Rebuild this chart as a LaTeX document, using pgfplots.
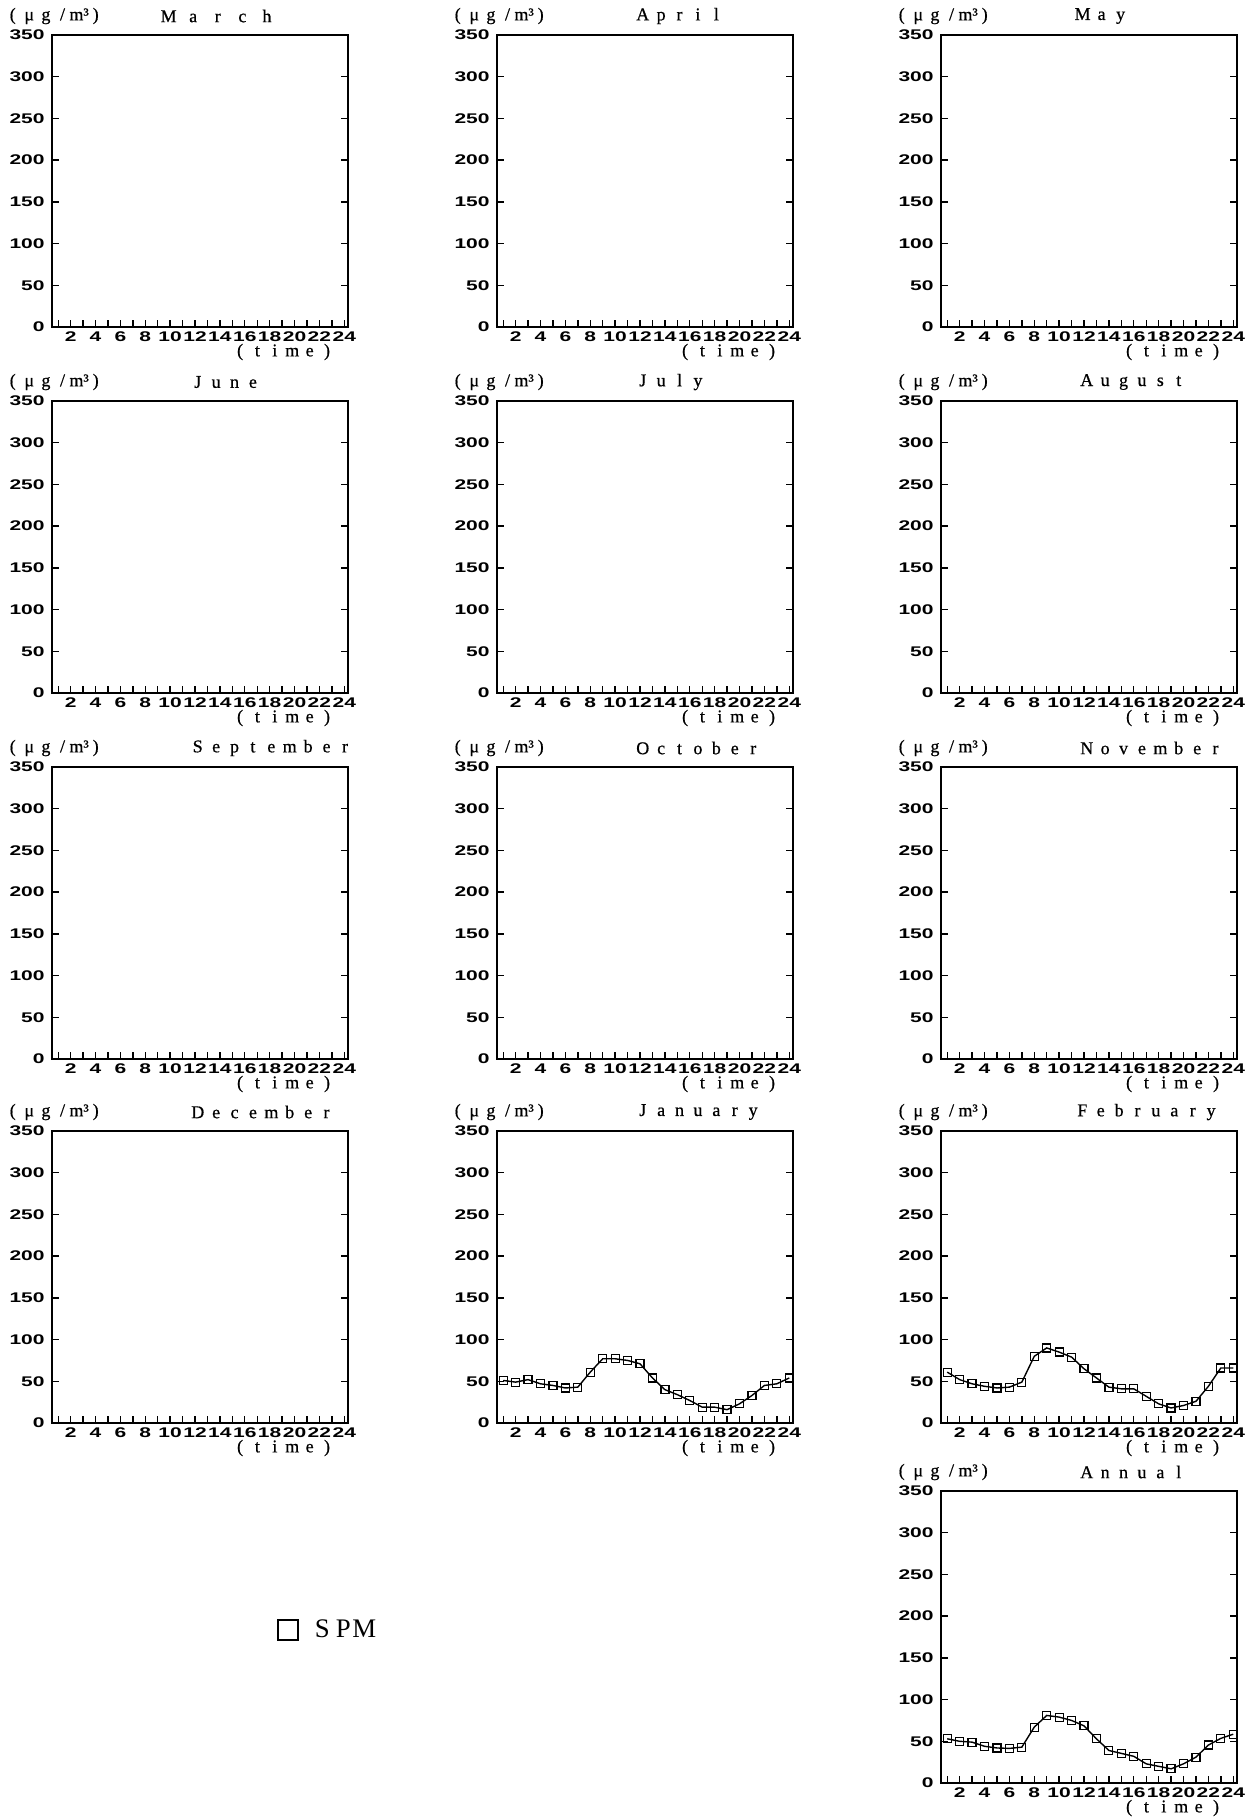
\documentclass[border=0pt]{standalone}
\usepackage{fontspec}
\setmainfont{Liberation Serif}
\newfontfamily\tickfont[FakeStretch=1.5]{Liberation Sans}
\newfontfamily\lblfont[FakeBold=0.6]{Liberation Serif}
\usepackage{pgfplots}
\pgfplotsset{compat=1.18}

\newcommand\spc[2]{\def\spcpitch{#1}\spcloop#2\relax}
\def\spcloop#1{\ifx\relax#1\else\makebox[\spcpitch][c]{#1}\expandafter\spcloop\fi}
\newcommand\tf{\tickfont\bfseries\fontsize{7}{8}\selectfont}
\newcommand\lf{\lblfont\fontsize{9}{10}\selectfont}

\pgfplotsset{
  panel/.style={
    width=148pt, height=146pt, scale only axis,
    xmin=0.5, xmax=24.3, ymin=0, ymax=350,
    xtick={2,4,...,24}, minor xtick={1,3,...,23},
    ytick={0,50,...,350},
    tick align=inside,
    xtick pos=left,
    ytick pos=both,
    yticklabel pos=left,
    major tick length=3.5pt, minor tick length=3.5pt,
    every tick/.style={line width=0.7pt, black},
    axis line style={line width=1.1pt},
    tick label style={font=\tf},
    /pgf/number format/assume math mode=true,
    yticklabel style={inner sep=0pt, xshift=-3.5pt},
    xticklabel style={inner sep=0pt, yshift=-2pt},
  },
  spm/.style={black, line width=0.7pt, mark=square, mark size=2pt, mark options={line width=0.6pt, solid}},
}

\newcommand\panel[7][]{%
\begin{axis}[panel, at={(#2pt,-#3pt)}, anchor=north west, #1,
  extra description/.code={
    \node[anchor=west,inner sep=0pt,yshift=9.5pt,font=\lf] at (axis description cs:#6,1) {\spc{#5}{#4}};
    \node[anchor=west,inner sep=0pt,yshift=9.5pt,font=\lf] at (axis description cs:-0.162,1) {\spc{8.3pt}{(μg/{m³})}};
    \node[anchor=east,inner sep=0pt,yshift=-12.5pt,font=\lf] at (axis description cs:0.96,0) {\spc{8.7pt}{(time)}};
  }]
#7
\end{axis}}

\begin{document}
\begin{tikzpicture}
\useasboundingbox (0,0) rectangle (626pt,-908.5pt);
% row 1
\panel{26}{17.5}{March}{12.3pt}{0.351}{}
\panel{248.5}{17.5}{April}{9.2pt}{0.46}{}
\panel{470.5}{17.5}{May}{9.5pt}{0.445}{}
% row 2
\panel{26}{200.5}{June}{9.2pt}{0.46}{}
\panel{248.5}{200.5}{July}{9.2pt}{0.46}{}
\panel{470.5}{200.5}{August}{9.2pt}{0.46}{}
% row 3
\panel{26}{383.5}{September}{9.2pt}{0.46}{}
\panel{248.5}{383.5}{October}{9.2pt}{0.46}{}
\panel{470.5}{383.5}{November}{9.2pt}{0.46}{}
% row 4
\panel{26}{565.5}{December}{9.2pt}{0.46}{}
\panel{248.5}{565.5}{January}{9.2pt}{0.46}{
\addplot[spm] coordinates {
(1,51) (2,49) (3,52) (4,47) (5,45) (6,42) (7,43) (8,61) (9,77) (10,77) (11,75) (12,71)
(13,54) (14,40) (15,34) (16,27) (17,19) (18,19) (19,16) (20,23) (21,33) (22,45) (23,47) (24,54)};
}
\panel{470.5}{565.5}{February}{9.2pt}{0.445}{
\addplot[spm] coordinates {
(1,61) (2,52) (3,47) (4,44) (5,42) (6,43) (7,49) (8,80) (9,90) (10,85) (11,79) (12,65)
(13,54) (14,43) (15,41) (16,41) (17,32) (18,23) (19,18) (20,21) (21,26) (22,44) (23,66) (24,66)};
}
% annual
\panel[legend style={at={(axis description cs:-2.243,0.524)}, anchor=west, draw=none, fill=none, inner sep=0pt, column sep=6.5pt, nodes={inner sep=0pt}, font=\fontsize{13.4}{15}\selectfont},
  legend image code/.code={\draw[line width=0.7pt, black] (0pt,-5pt) rectangle (10pt,5pt);}]
{470.5}{745.5}{Annual}{9.2pt}{0.46}{
\addplot[spm] coordinates {
(1,53) (2,50) (3,49) (4,44) (5,42) (6,41.5) (7,43) (8,67) (9,81) (10,79) (11,75) (12,68.5)
(13,53) (14,39) (15,35.5) (16,32) (17,23) (18,20) (19,17) (20,23) (21,31) (22,45.5) (23,53.5) (24,58.5)};
\addlegendentry{\spc{10.5pt}{SPM}}
}
\end{tikzpicture}
\end{document}
